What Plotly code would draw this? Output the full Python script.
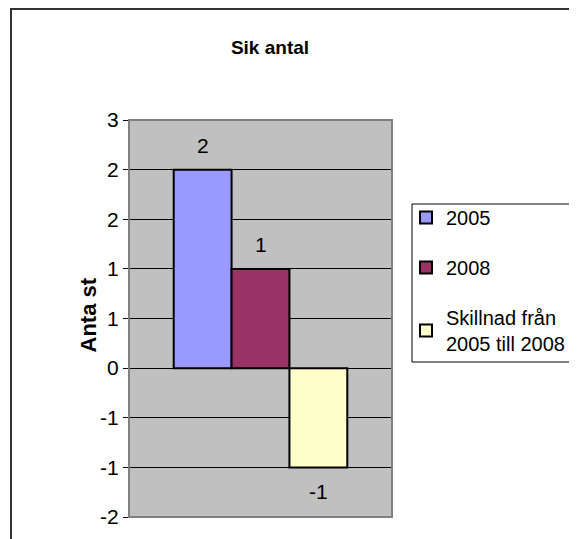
import plotly.graph_objects as go

# ---- data ----
series_names = ["2005", "2008", "Skillnad från<br>2005 till 2008"]
series_values = [2.4, 1.2, -1.2]
series_labels = ["2", "1", "-1"]
series_colors = ["#9999FF", "#993366", "#FFFFCC"]
category = [""]
tick_values = [-1.8, -1.2, -0.6, 0.0, 0.6, 1.2, 1.8, 2.4, 3.0]
tick_labels = ["-2", "-1", "-1", "0", "1", "1", "2", "2", "3"]

FONT = "Arial, 'Liberation Sans', sans-serif"
W, H = 577, 539
OFF = 8  # page body margin
L, R, T, B = 129 - OFF, 392 - OFF, 120 - OFF, 517 - OFF
pw, ph = R - L, B - T

def px_x(p):
    return (p - OFF - L) / pw

def px_y(p):
    return (B - (p - OFF)) / ph

fig = go.Figure()
for i, (n, v, c) in enumerate(zip(series_names, series_values, series_colors)):
    fig.add_trace(go.Bar(
        x=category, y=[v], name=n,
        marker=dict(color=c, line=dict(color="black", width=2)),
        legendgroup=f"g{i}",
        hoverinfo="skip",
    ))

# data labels
bar_w = pw * (1 - 0.34) / 3
for i, (v, lab) in enumerate(zip(series_values, series_labels)):
    fig.add_annotation(
        x=0, y=v, xref="x", yref="y", text=lab, showarrow=False,
        xshift=(i - 1) * bar_w, yshift=24 if v >= 0 else -24,
        font=dict(family=FONT, size=21, color="black"),
    )

# y axis title
fig.add_annotation(
    x=px_x(73), y=px_y(315), xref="paper", yref="paper", text="<b>Anta st</b>",
    textangle=-90, showarrow=False, font=dict(family=FONT, size=22, color="black"),
)

# plot area border
fig.add_shape(type="rect", xref="paper", yref="paper", x0=0, x1=1, y0=0, y1=1,
              line=dict(color="#808080", width=2), layer="above")
# outer chart frame
fig.add_shape(type="rect", xref="paper", yref="paper",
              x0=px_x(11), x1=px_x(590), y0=px_y(560), y1=px_y(9),
              line=dict(color="#333333", width=2), layer="above")
# legend box
fig.add_shape(type="rect", xref="paper", yref="paper",
              x0=px_x(412), x1=px_x(574), y0=px_y(362), y1=px_y(204),
              line=dict(color="black", width=1), fillcolor="white", layer="below")

fig.update_layout(
    width=W, height=H,
    margin=dict(l=L, r=W - R, t=T, b=H - B, pad=0, autoexpand=False),
    paper_bgcolor="white", plot_bgcolor="#C0C0C0",
    barmode="group", bargap=0.34, bargroupgap=0,
    title=dict(text="<b>Sik antal</b>", x=px_x(270), xref="paper", xanchor="center",
               y=1 - (47 - OFF) / H, yanchor="middle",
               font=dict(family=FONT, size=19, color="black")),
    font=dict(family=FONT, size=21, color="black"),
    showlegend=True,
    legend=dict(x=px_x(406), y=px_y(198), xanchor="left", yanchor="top",
                bgcolor="rgba(0,0,0,0)", borderwidth=0,
                font=dict(family=FONT, size=20, color="black"),
                tracegroupgap=21, traceorder="grouped", itemclick=False),
    xaxis=dict(showticklabels=False, showgrid=False, zeroline=False, showline=False,
               ticks="", fixedrange=True),
    yaxis=dict(range=[-1.8, 3.0], tickmode="array", tickvals=tick_values,
               ticktext=tick_labels, showgrid=True, gridcolor="black", gridwidth=1,
               zeroline=True, zerolinecolor="black", zerolinewidth=1,
               showline=True, linecolor="black", linewidth=1,
               ticks="outside", ticklen=5, tickcolor="black",
               tickfont=dict(family=FONT, size=21, color="black"), fixedrange=True),
)

fig.write_html("out.html")
